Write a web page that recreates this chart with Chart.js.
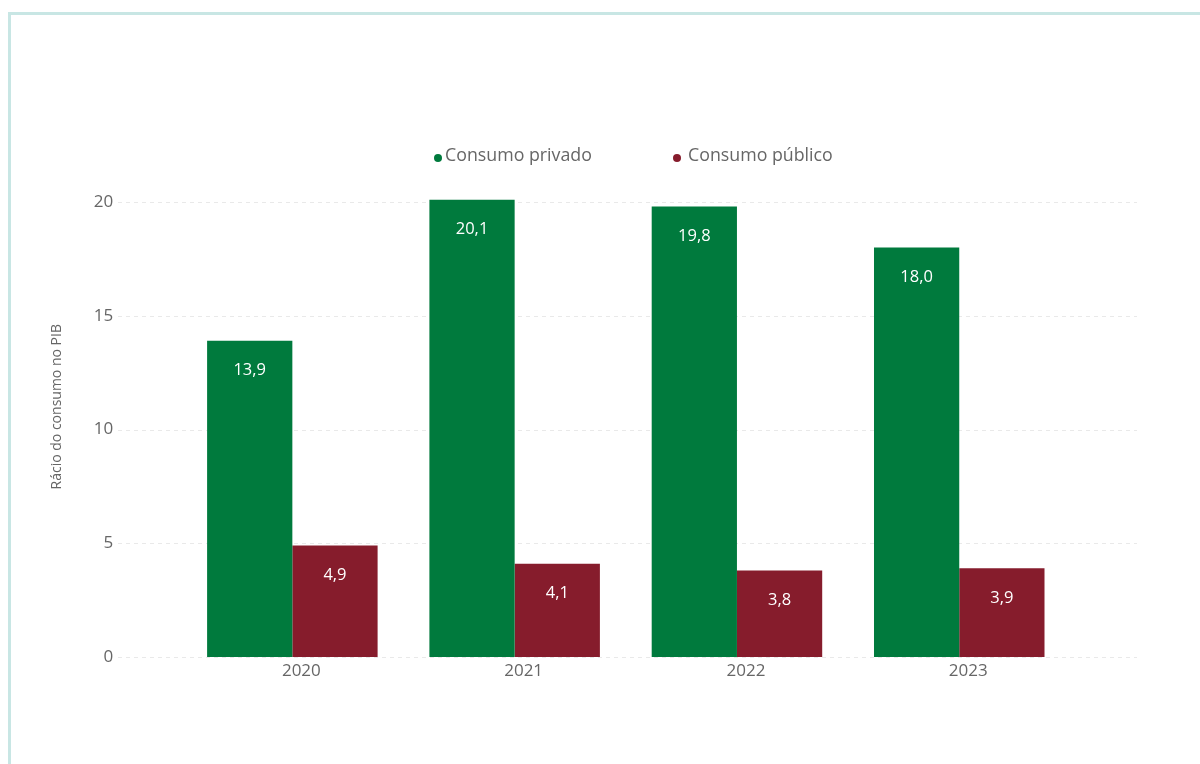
<!DOCTYPE html>
<html lang="pt">
<head>
<meta charset="utf-8">
<title>Rácio do consumo no PIB</title>
<script src="https://cdn.jsdelivr.net/npm/chart.js@4/dist/chart.umd.min.js"></script>
<style>
  html, body { margin: 0; padding: 0; background: #ffffff; overflow: hidden; }
  .frame {
    position: absolute; left: 8px; top: 12px;
    width: 1300px; height: 900px;
    border-left: 3px solid #c8e6e4; border-top: 3px solid #c8e6e4;
  }
  .wrap { position: absolute; left: 0; top: 0; width: 1200px; height: 764px; }
</style>
</head>
<body>
<div class="frame"></div>
<div class="wrap"><canvas id="chart" width="1200" height="764"></canvas></div>
<script>
// Years on the category axis
const years = ['2020', '2021', '2022', '2023'];
// Private and public consumption, ratio to GDP
const privateConsumption = [13.9, 20.1, 19.8, 18.0];
const publicConsumption = [4.9, 4.1, 3.8, 3.9];
// Value-axis ticks
const yTicks = [0, 5, 10, 15, 20];

const seriesNames = ['Consumo privado', 'Consumo público'];
const seriesColors = ['#007a3d', '#861c2c'];
const FONT = '"Segoe UI", "Open Sans", sans-serif';
const TEXT = '#666666';

const fmt = v => v.toFixed(1).replace('.', ',');

// Dashed horizontal guide lines, wider than the bar area
const guideLines = {
  id: 'guideLines',
  beforeDatasetsDraw(chart) {
    const y = chart.scales.y, ctx = chart.ctx;
    ctx.save();
    ctx.strokeStyle = '#e9e9e9';
    ctx.lineWidth = 1;
    ctx.setLineDash([4, 4]);
    yTicks.forEach(v => {
      const py = Math.round(y.getPixelForValue(v)) + 0.5;
      ctx.beginPath();
      ctx.moveTo(118, py);
      ctx.lineTo(1137, py);
      ctx.stroke();
    });
    ctx.restore();
  }
};

// Value labels inside the top of each bar
const barLabels = {
  id: 'barLabels',
  afterDatasetsDraw(chart) {
    const ctx = chart.ctx;
    ctx.save();
    ctx.font = '16.5px ' + FONT;
    ctx.fillStyle = '#ffffff';
    ctx.textAlign = 'center';
    ctx.textBaseline = 'middle';
    chart.data.datasets.forEach((ds, i) => {
      chart.getDatasetMeta(i).data.forEach((bar, j) => {
        ctx.fillText(fmt(ds.data[j]), bar.x, bar.y + 30);
      });
    });
    ctx.restore();
  }
};

// Legend row above the plot
const legendRow = {
  id: 'legendRow',
  afterDraw(chart) {
    const ctx = chart.ctx;
    const items = [
      { x: 438, tx: 445 },
      { x: 677, tx: 688 }
    ];
    ctx.save();
    ctx.font = '17.8px ' + FONT;
    ctx.textBaseline = 'middle';
    ctx.textAlign = 'left';
    chart.data.datasets.forEach((ds, i) => {
      ctx.fillStyle = ds.backgroundColor;
      ctx.beginPath();
      ctx.arc(items[i].x, 158, 4, 0, Math.PI * 2);
      ctx.fill();
      ctx.fillStyle = TEXT;
      ctx.fillText(ds.label, items[i].tx, 156);
    });
    ctx.restore();
  }
};

new Chart(document.getElementById('chart'), {
  type: 'bar',
  data: {
    labels: years,
    datasets: [
      { label: seriesNames[0], data: privateConsumption, backgroundColor: seriesColors[0] },
      { label: seriesNames[1], data: publicConsumption, backgroundColor: seriesColors[1] }
    ]
  },
  options: {
    responsive: false,
    animation: false,
    devicePixelRatio: 1,
    categoryPercentage: 0.767,
    barPercentage: 1.0,
    layout: { padding: { top: 156.5, right: 129.6, bottom: 0, left: 0 } },
    plugins: { legend: { display: false }, tooltip: { enabled: false } },
    scales: {
      x: {
        grid: { display: false, drawTicks: false },
        border: { display: false },
        ticks: { color: TEXT, font: { family: FONT, size: 17 }, padding: 4, labelOffset: 9 },
        afterFit(s) { s.height = 107; }
      },
      y: {
        min: 0, max: 22,
        grid: { display: false, drawTicks: false },
        border: { display: false },
        afterBuildTicks(s) { s.ticks = yTicks.map(v => ({ value: v })); },
        ticks: { color: TEXT, font: { family: FONT, size: 17 }, padding: 68 },
        title: {
          display: true, text: 'Rácio do consumo no PIB', color: TEXT,
          font: { family: FONT, size: 14 }, padding: { top: 48.5, bottom: 0 }
        },
        afterFit(s) { s.width = 181.2; }
      }
    }
  },
  plugins: [guideLines, barLabels, legendRow]
});
</script>
</body>
</html>
